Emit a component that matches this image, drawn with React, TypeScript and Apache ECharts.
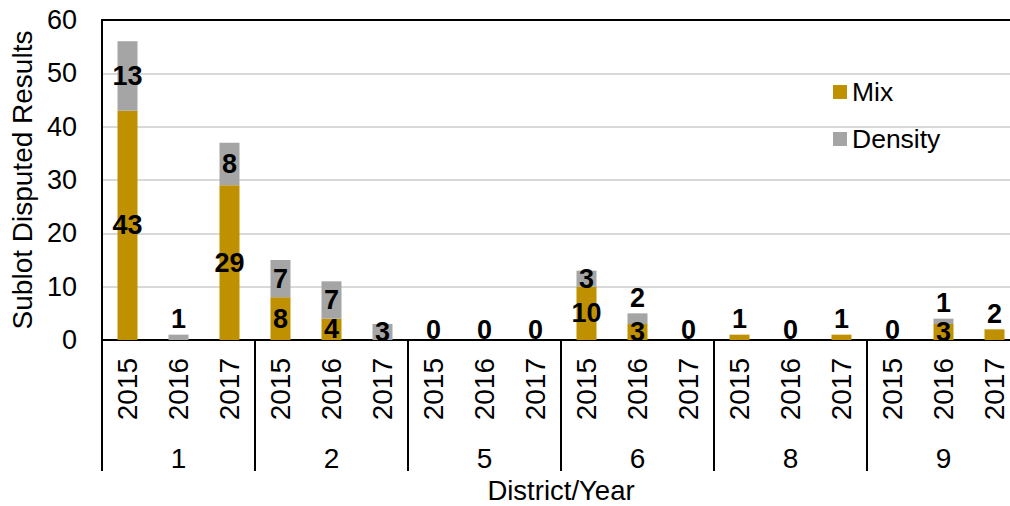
import React, { useEffect, useRef } from "react";
import * as echarts from "echarts";

const districts = ["1", "2", "5", "6", "8", "9"];
const years = ["2015", "2016", "2017"];
const mixValues = [43, 0, 29, 8, 4, 0, 0, 0, 0, 10, 3, 0, 1, 0, 1, 0, 3, 2];
const densityValues = [13, 1, 8, 7, 7, 3, 0, 0, 0, 3, 2, 0, 0, 0, 0, 0, 1, 0];
const yTicks = { min: 0, max: 60, interval: 10 };

const FONT = "'Liberation Sans', Arial, sans-serif";

export default function App() {
  const ref = useRef<HTMLDivElement>(null);
  useEffect(() => {
    if (!ref.current) return;
    const chart = echarts.init(ref.current, null, { renderer: "svg" });
    const yearCats: string[] = [];
    districts.forEach(() => years.forEach((y) => yearCats.push(y)));

    const labelBase = {
      show: true,
      fontFamily: FONT,
      fontSize: 27,
      fontWeight: "bold" as const,
      color: "#000",
    };
    const mixData = mixValues.map((v, i) => {
      const d = densityValues[i];
      let label: any;
      if (v === 0 && d === 0) label = { ...labelBase, position: "top", distance: -3 };
      else if (v === 0) label = { show: false };
      else if (d === 0 && v < 3) label = { ...labelBase, position: "top", distance: 2 };
      else label = { ...labelBase, position: "inside" };
      return { value: v, label };
    });
    const densityData = densityValues.map((v) => {
      let label: any;
      if (v === 0) label = { show: false };
      else if (v < 3) label = { ...labelBase, position: "top", distance: 2 };
      else label = { ...labelBase, position: "inside" };
      return { value: v, label };
    });

    chart.setOption({
      animation: false,
      textStyle: { fontFamily: FONT },
      grid: {
        left: 102,
        top: 20,
        width: 918,
        height: 320,
        containLabel: false,
        outerBoundsMode: "none",
      },
      legend: {
        orient: "vertical",
        left: 828,
        top: 73,
        icon: "rect",
        itemWidth: 14,
        itemHeight: 14,
        itemGap: 19,
        textStyle: { fontFamily: FONT, fontSize: 26.5, color: "#000", lineHeight: 28 },
        data: ["Mix", "Density"],
      },
      xAxis: [
        {
          type: "category",
          data: yearCats,
          position: "bottom",
          axisLine: { show: true, lineStyle: { color: "#000", width: 2 } },
          axisTick: { show: false },
          axisLabel: {
            interval: 0,
            rotate: 90,
            margin: 18,
            fontSize: 28,
            color: "#000",
            fontFamily: FONT,
          },
        },
        {
          type: "category",
          data: districts,
          position: "bottom",
          axisLine: { show: false },
          axisTick: { show: true, length: 131, interval: 0, lineStyle: { color: "#000", width: 2 } },
          axisLabel: { interval: 0, margin: 104, fontSize: 28, color: "#000", fontFamily: FONT },
          name: "District/Year",
          nameLocation: "middle",
          nameGap: 137,
          nameTextStyle: { fontSize: 27.5, lineHeight: 27, color: "#000", fontFamily: FONT },
        },
        {
          type: "category",
          data: yearCats,
          position: "top",
          axisLine: { show: true, lineStyle: { color: "#000", width: 2 } },
          axisTick: { show: false },
          axisLabel: { show: false },
        },
      ],
      yAxis: {
        type: "value",
        min: yTicks.min,
        max: yTicks.max,
        interval: yTicks.interval,
        axisLine: { show: true, lineStyle: { color: "#000", width: 2 } },
        axisTick: { show: false },
        splitLine: { show: true, lineStyle: { color: "#D9D9D9", width: 2 } },
        axisLabel: { margin: 25, fontSize: 27, color: "#000", fontFamily: FONT },
        name: "Sublot Disputed Results",
        nameLocation: "middle",
        nameRotate: 90,
        nameGap: 66,
        nameTextStyle: { fontSize: 28, color: "#000", fontFamily: FONT },
      },
      series: [
        {
          name: "Mix",
          type: "bar",
          stack: "total",
          xAxisIndex: 0,
          barWidth: 20,
          itemStyle: { color: "#BF9000" },
          data: mixData,
        },
        {
          name: "Density",
          type: "bar",
          stack: "total",
          xAxisIndex: 0,
          barWidth: 20,
          itemStyle: { color: "#A5A5A5" },
          data: densityData,
        },
      ],
    });
    return () => chart.dispose();
  }, []);
  return (
    <div style={{ position: "absolute", left: 0, top: 0, width: 1010, height: 506, overflow: "hidden" }}>
      <div ref={ref} style={{ width: 1040, height: 506 }} />
    </div>
  );
}
